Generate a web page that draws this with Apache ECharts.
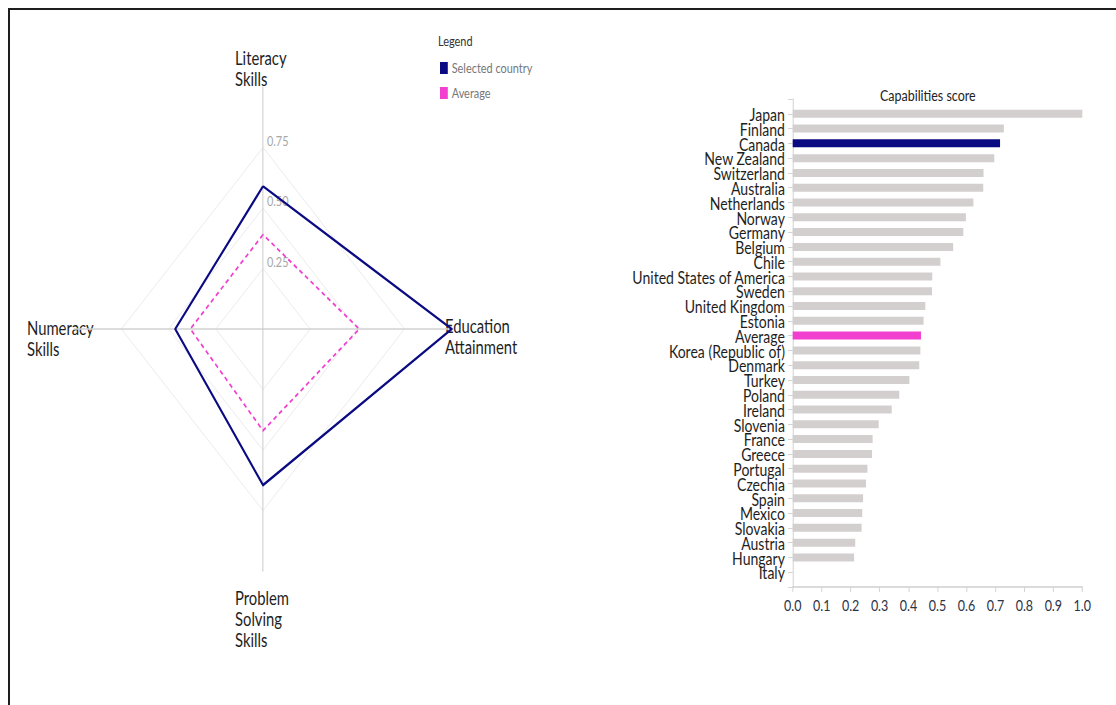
<!DOCTYPE html>
<html>
<head>
<meta charset="utf-8">
<script src="https://cdn.jsdelivr.net/npm/echarts@6/dist/echarts.min.js"></script>
<style>
  html, body { margin: 0; padding: 0; width: 1116px; height: 705px; overflow: hidden; background: #fff; }
  #frame { position: absolute; left: 8px; top: 8px; width: 1120px; height: 710px;
           border-top: 2px solid #1e1e1e; border-left: 2px solid #1e1e1e; box-sizing: border-box; }
  #chart { position: absolute; left: 0; top: 0; width: 1431px; height: 705px;
           transform: scaleX(0.78); transform-origin: 0 0; }
</style>
</head>
<body>
<div id="frame"></div>
<div id="chart"></div>
<script>
// Radar: four skill dimensions (order: top, left, bottom, right)
const dimensions = ['Literacy Skills', 'Numeracy Skills', 'Problem Solving Skills', 'Education Attainment'];
const selectedScores = [0.59, 0.465, 0.645, 1.0];
const averageScores = [0.39, 0.385, 0.42, 0.51];
const radarTickLabels = ['0.25', '0.50', '0.75'];

// Ranking of capabilities scores
const countries = ['Japan', 'Finland', 'Canada', 'New Zealand', 'Switzerland', 'Australia', 'Netherlands',
  'Norway', 'Germany', 'Belgium', 'Chile', 'United States of America', 'Sweden', 'United Kingdom',
  'Estonia', 'Average', 'Korea (Republic of)', 'Denmark', 'Turkey', 'Poland', 'Ireland', 'Slovenia',
  'France', 'Greece', 'Portugal', 'Czechia', 'Spain', 'Mexico', 'Slovakia', 'Austria', 'Hungary', 'Italy'];
const capabilityScores = [1.0, 0.729, 0.716, 0.696, 0.659, 0.658, 0.624, 0.598, 0.589, 0.554, 0.510,
  0.482, 0.481, 0.458, 0.452, 0.443, 0.441, 0.437, 0.403, 0.368, 0.342, 0.297, 0.276, 0.274,
  0.258, 0.253, 0.243, 0.240, 0.238, 0.216, 0.212, 0];
const selectedCountry = 'Canada';
const averageLabel = 'Average';

// Layout: drawing area is squeezed horizontally by SX
const SX = 0.78;
const px = x => x / SX;
const NAVY = '#0a0a82';
const PINK = '#f23fcf';
const BAR_GREY = '#d4cfcf';
const FONT = 'Lato, "Open Sans", sans-serif';

const chart = echarts.init(document.getElementById('chart'), null, { renderer: 'svg' });

// Axis names laid out as left-aligned text blocks around the radar
const nameBlocks = [
  { text: 'Literacy\nSkills', x: px(235), y: 47 },
  { text: 'Numeracy\nSkills', x: px(27), y: 317 },
  { text: 'Problem\nSolving\nSkills', x: px(235), y: 587 },
  { text: 'Education\nAttainment', x: px(445), y: 315 }
];

const option = {
  animation: false,
  textStyle: { fontFamily: FONT },
  title: [
    { text: 'Legend', left: px(438) - 5, top: 29,
      textStyle: { fontSize: 14, fontWeight: 'normal', color: '#333', fontFamily: FONT } },
    { text: 'Capabilities score', left: px(880) - 5, top: 82,
      textStyle: { fontSize: 16, fontWeight: 'normal', color: '#222', fontFamily: FONT } }
  ],
  legend: {
    orient: 'vertical', left: px(440) - 5, top: 56, itemGap: 11,
    itemWidth: 10, itemHeight: 12, icon: 'rect',
    textStyle: { color: '#777', fontSize: 14, fontFamily: FONT },
    data: ['Selected country', 'Average']
  },
  graphic: nameBlocks.map(b => ({
    type: 'text', left: b.x, top: b.y, silent: true,
    style: { text: b.text, fill: '#1e1e1e', font: '19px ' + FONT, lineHeight: 21, align: 'left' }
  })),
  radar: {
    center: [px(263), 329], radius: 242, startAngle: 90, shape: 'polygon', splitNumber: 4,
    indicator: dimensions.map((name, i) => ({ name, min: 0, max: 1, axisLabel: { show: i === 0 } })),
    axisName: { show: false },
    axisLine: { lineStyle: { color: '#d2d2d2', width: 1.5 } },
    axisTick: { show: false },
    splitArea: { show: false },
    splitLine: { lineStyle: { color: ['#e8e8e8', '#e8e8e8', '#e8e8e8', '#e8e8e8', 'rgba(0,0,0,0)'], width: 1 } },
    axisLabel: {
      show: true, color: '#a8a8a8', fontSize: 14, fontFamily: FONT, margin: -5,
      align: 'left', verticalAlign: 'bottom',
      formatter: v => {
        const idx = Math.round(v * 4) - 1;
        return radarTickLabels[idx] || '';
      }
    }
  },
  grid: { left: px(792.7), right: 1431 - px(1082.3), top: 99, bottom: 705 - 587 },
  xAxis: {
    type: 'value', min: 0, max: 1, interval: 0.1,
    axisLine: { show: true, lineStyle: { color: '#cfcfcf', width: 1.5 } },
    axisTick: { show: true, length: 5, lineStyle: { color: '#cfcfcf' } },
    splitLine: { show: false },
    axisLabel: { color: '#2b3346', fontSize: 16, margin: 10, fontFamily: FONT, formatter: v => v.toFixed(1) }
  },
  yAxis: {
    type: 'category', inverse: true, boundaryGap: false,
    // blank rows pad the band above the first and below the last country
    data: [''].concat(countries, ['']),
    axisLine: { show: true, lineStyle: { color: '#d8d8d8', width: 1.5 } },
    axisTick: { show: true, length: 6, lineStyle: { color: '#cfcfcf' } },
    axisLabel: { color: '#1e1e1e', fontSize: 18, margin: 10, fontFamily: FONT, interval: 0 }
  },
  series: [
    {
      type: 'radar', symbol: 'none',
      data: [
        { name: 'Selected country', value: selectedScores,
          itemStyle: { color: NAVY }, lineStyle: { color: NAVY, width: 2.5 } },
        { name: 'Average', value: averageScores,
          itemStyle: { color: PINK }, lineStyle: { color: PINK, width: 2, type: [5, 4] } }
      ]
    },
    {
      type: 'bar', barWidth: 8,
      encode: { x: 0, y: 1 },
      data: countries.map((c, i) => ({
        value: [capabilityScores[i], c],
        itemStyle: { color: c === selectedCountry ? NAVY : c === averageLabel ? PINK : BAR_GREY }
      }))
    }
  ]
};

chart.setOption(option);
</script>
</body>
</html>
